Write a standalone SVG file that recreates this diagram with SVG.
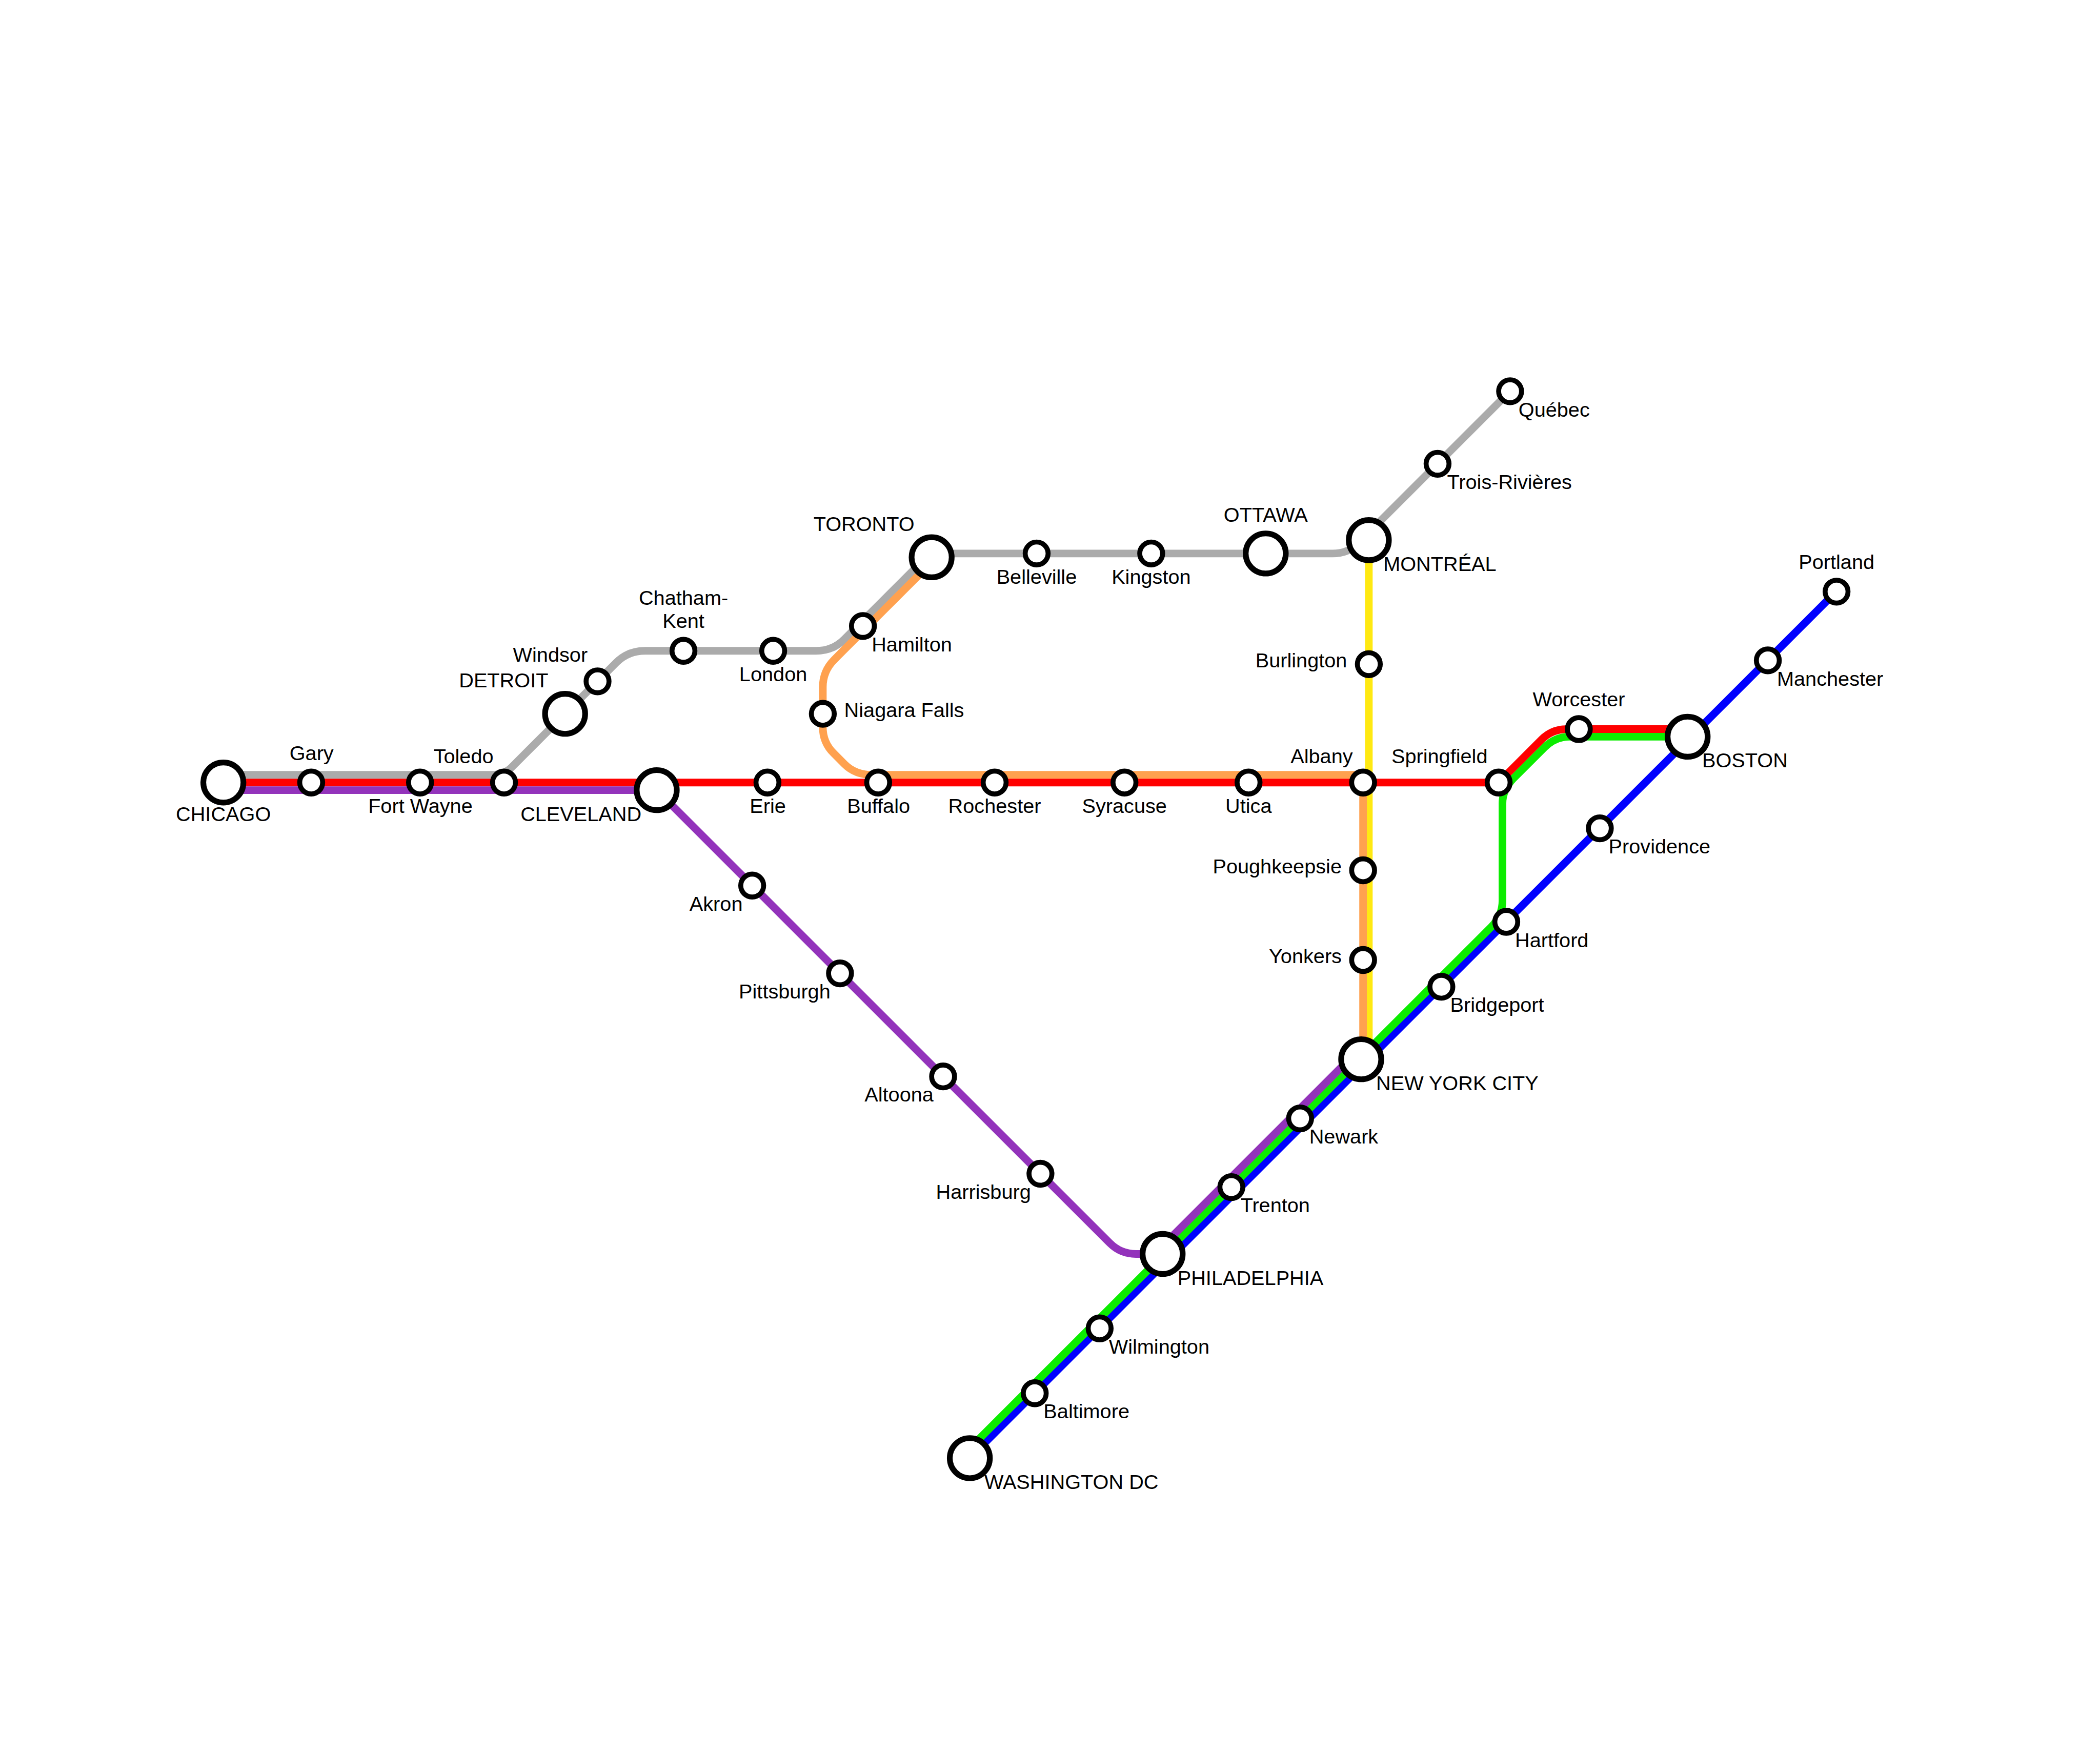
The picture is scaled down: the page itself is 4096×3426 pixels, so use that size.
<svg xmlns="http://www.w3.org/2000/svg" width="4096" height="3426" viewBox="0 0 4096 3426">
<style>
.l{fill:none;stroke-width:20;stroke-linejoin:round}
.gy{stroke:#ababab}.rd{stroke:#ff0000}.pu{stroke:#9333bb}.or{stroke:#ffa14f}.ye{stroke:#ffe912}.gn{stroke:#0cec00}.bl{stroke:#0000ff}
.s{fill:#fff;stroke:#000;stroke-width:13}
.h{fill:#fff;stroke:#000;stroke-width:15}
text{font-family:"Liberation Sans",Arial,sans-serif;font-size:53.3px;fill:#000}
.m{text-anchor:middle}.e{text-anchor:end}
</style>
<rect width="4096" height="3426" fill="#fff"/>
<g transform="scale(0.74473)">
<g id="connectors">
<path id="line-grey" class="l gy" d="M585 2030H1285Q1320 2030 1340 2010L1615 1735Q1645 1705 1690 1705H2137Q2181 1705 2211 1675L2436 1450H3490Q3530 1450 3555 1425L3955 1025"/>
<path id="line-yellow" class="l ye" d="M3585 1415V2745"/>
<path id="line-orange" class="l or" d="M2440 1473L2185 1728Q2155 1758 2155 1800V1905Q2155 1945 2183 1973L2212 2002Q2240 2030 2285 2030H3570V2775"/>
<path id="line-red" class="l rd" d="M585 2050H3925L4038 1937Q4065 1910 4105 1910H4420"/>
<path id="line-blue" class="l bl" d="M2540 3819L4810 1549"/>
<path id="line-green" class="l gn" d="M2540 3794L3905 2429Q3935 2399 3935 2360V2105Q3935 2068 3965 2038L4045 1958Q4073 1930 4110 1930H4420"/>
<path id="line-purple" class="l pu" d="M585 2070H1720L2907 3257Q2935 3285 2975 3285H3023L3040 3269L3530 2779"/>
</g>
<g id="chicago"><circle class="h" cx="585" cy="2050" r="52.5"/><text class="m" x="585" y="2151">CHICAGO</text></g>
<g id="gary"><circle class="s" cx="815" cy="2050" r="30"/><text class="m" x="816" y="1991">Gary</text></g>
<g id="fort-wayne"><circle class="s" cx="1100" cy="2050" r="30"/><text class="m" x="1101" y="2129">Fort Wayne</text></g>
<g id="toledo"><circle class="s" cx="1320" cy="2050" r="30"/><text class="m" x="1214" y="1999">Toledo</text></g>
<g id="cleveland"><circle class="h" cx="1720" cy="2070" r="52.5"/><text class="e" x="1680" y="2151">CLEVELAND</text></g>
<g id="detroit"><circle class="h" cx="1480" cy="1870" r="52.5"/><text class="e" x="1436" y="1801">DETROIT</text></g>
<g id="windsor"><circle class="s" cx="1565" cy="1785" r="30"/><text class="e" x="1539" y="1734">Windsor</text></g>
<g id="chatham-kent"><circle class="s" cx="1790" cy="1705" r="30"/><text class="m" x="1790" y="1585">Chatham-</text><text class="m" x="1790" y="1645">Kent</text></g>
<g id="london"><circle class="s" cx="2025" cy="1705" r="30"/><text class="m" x="2025" y="1784">London</text></g>
<g id="hamilton"><circle class="s" cx="2260" cy="1640" r="30"/><text x="2283" y="1706">Hamilton</text></g>
<g id="toronto"><circle class="h" cx="2440" cy="1460" r="52.5"/><text class="e" x="2395" y="1391">TORONTO</text></g>
<g id="niagara-falls"><circle class="s" cx="2155" cy="1870" r="30"/><text x="2211" y="1878">Niagara Falls</text></g>
<g id="erie"><circle class="s" cx="2010" cy="2050" r="30"/><text class="m" x="2011" y="2129">Erie</text></g>
<g id="buffalo"><circle class="s" cx="2300" cy="2050" r="30"/><text class="m" x="2301" y="2129">Buffalo</text></g>
<g id="rochester"><circle class="s" cx="2605" cy="2050" r="30"/><text class="m" x="2605" y="2129">Rochester</text></g>
<g id="syracuse"><circle class="s" cx="2945" cy="2050" r="30"/><text class="m" x="2945" y="2129">Syracuse</text></g>
<g id="utica"><circle class="s" cx="3270" cy="2050" r="30"/><text class="m" x="3270" y="2129">Utica</text></g>
<g id="albany"><circle class="s" cx="3570" cy="2050" r="30"/><text class="e" x="3543" y="1999">Albany</text></g>
<g id="springfield"><circle class="s" cx="3925" cy="2050" r="30"/><text class="e" x="3896" y="1999">Springfield</text></g>
<g id="worcester"><circle class="s" cx="4135" cy="1910" r="30"/><text class="m" x="4135" y="1850">Worcester</text></g>
<g id="boston"><circle class="h" cx="4420" cy="1930" r="52.5"/><text x="4458" y="2010">BOSTON</text></g>
<g id="belleville"><circle class="s" cx="2715" cy="1450" r="30"/><text class="m" x="2715" y="1529">Belleville</text></g>
<g id="kingston"><circle class="s" cx="3015" cy="1450" r="30"/><text class="m" x="3015" y="1529">Kingston</text></g>
<g id="ottawa"><circle class="h" cx="3315" cy="1450" r="52.5"/><text class="m" x="3315" y="1367">OTTAWA</text></g>
<g id="montreal"><circle class="h" cx="3585" cy="1415" r="52.5"/><text x="3623" y="1496">MONTRÉAL</text></g>
<g id="trois-rivieres"><circle class="s" cx="3765" cy="1215" r="30"/><text x="3790" y="1281">Trois-Rivières</text></g>
<g id="quebec"><circle class="s" cx="3955" cy="1025" r="30"/><text x="3977" y="1091">Québec</text></g>
<g id="burlington"><circle class="s" cx="3585" cy="1740" r="30"/><text class="e" x="3528" y="1748">Burlington</text></g>
<g id="poughkeepsie"><circle class="s" cx="3570" cy="2280" r="30"/><text class="e" x="3514" y="2288">Poughkeepsie</text></g>
<g id="yonkers"><circle class="s" cx="3570" cy="2515" r="30"/><text class="e" x="3514" y="2523">Yonkers</text></g>
<g id="new-york-city"><circle class="h" cx="3565" cy="2775" r="52.5"/><text x="3604" y="2856">NEW YORK CITY</text></g>
<g id="newark"><circle class="s" cx="3405" cy="2930" r="30"/><text x="3429" y="2996">Newark</text></g>
<g id="trenton"><circle class="s" cx="3225" cy="3110" r="30"/><text x="3249" y="3176">Trenton</text></g>
<g id="philadelphia"><circle class="h" cx="3045" cy="3285" r="52.5"/><text x="3084" y="3366">PHILADELPHIA</text></g>
<g id="wilmington"><circle class="s" cx="2880" cy="3480" r="30"/><text x="2904" y="3546">Wilmington</text></g>
<g id="baltimore"><circle class="s" cx="2710" cy="3650" r="30"/><text x="2733" y="3716">Baltimore</text></g>
<g id="washington-dc"><circle class="h" cx="2540" cy="3820" r="52.5"/><text x="2578" y="3901">WASHINGTON DC</text></g>
<g id="bridgeport"><circle class="s" cx="3775" cy="2585" r="30"/><text x="3798" y="2651">Bridgeport</text></g>
<g id="hartford"><circle class="s" cx="3945" cy="2415" r="30"/><text x="3968" y="2481">Hartford</text></g>
<g id="providence"><circle class="s" cx="4190" cy="2170" r="30"/><text x="4213" y="2236">Providence</text></g>
<g id="manchester"><circle class="s" cx="4630" cy="1730" r="30"/><text x="4654" y="1796">Manchester</text></g>
<g id="portland"><circle class="s" cx="4810" cy="1550" r="30"/><text class="m" x="4810" y="1490">Portland</text></g>
<g id="akron"><circle class="s" cx="1970" cy="2320" r="30"/><text class="e" x="1945" y="2386">Akron</text></g>
<g id="pittsburgh"><circle class="s" cx="2200" cy="2550" r="30"/><text class="e" x="2175" y="2616">Pittsburgh</text></g>
<g id="altoona"><circle class="s" cx="2470" cy="2820" r="30"/><text class="e" x="2445" y="2886">Altoona</text></g>
<g id="harrisburg"><circle class="s" cx="2725" cy="3075" r="30"/><text class="e" x="2700" y="3141">Harrisburg</text></g>
</g>
</svg>
